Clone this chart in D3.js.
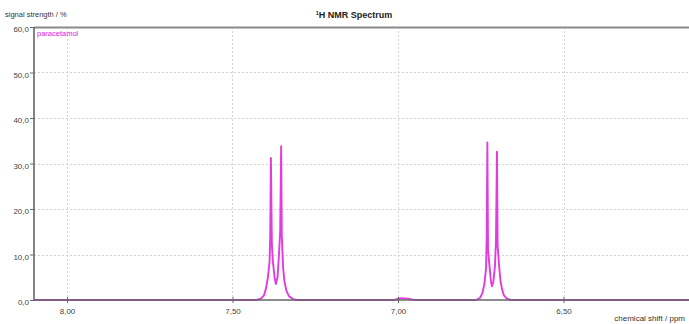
<!DOCTYPE html>
<html lang="en">
<head>
  <meta charset="UTF-8">
  <title>1H NMR Spectrum</title>
  <script src="https://cdnjs.cloudflare.com/ajax/libs/d3/7.8.5/d3.min.js"></script>
  <style>
    body { margin: 0; background: #fff; }
    svg { display: block; font-family: "Liberation Sans", Arial, sans-serif; }
  </style>
</head>
<body>
<svg id="chart" width="689" height="324"></svg>
<script>
// chemical shift (ppm) and signal strength (%)
const shifts = [
  8.100, 7.700, 7.429, 7.414, 7.405, 7.399, 7.393, 7.388, 7.386, 7.384, 7.381, 7.378,
  7.373, 7.369, 7.364, 7.360, 7.356, 7.353, 7.351, 7.347, 7.343, 7.337, 7.329, 7.317,
  7.305, 7.010, 7.000, 6.990, 6.970, 6.958, 6.950,
  6.764, 6.752, 6.745, 6.739, 6.734, 6.732, 6.730, 6.728, 6.723, 6.719, 6.716, 6.712,
  6.707, 6.704, 6.701, 6.699, 6.694, 6.690, 6.686, 6.680, 6.671, 6.659, 6.400, 6.000
];
const strength = [
  0.0, 0.0, 0.0, 0.3, 1.0, 2.5, 5.0, 8.5, 14.0, 31.2, 12.0, 8.5,
  5.0, 3.5, 5.0, 9.5, 15.0, 33.8, 14.0, 7.0, 4.0, 2.0, 0.8, 0.2,
  0.0, 0.0, 0.3, 0.4, 0.3, 0.1, 0.0,
  0.0, 0.5, 1.5, 3.5, 7.0, 14.0, 34.6, 11.0, 7.0, 4.0, 3.0, 4.0,
  7.5, 13.0, 32.6, 12.0, 7.0, 4.0, 2.5, 1.0, 0.3, 0.0, 0.0, 0.0
];
const xTicks = [8.0, 7.5, 7.0, 6.5];
const yTicks = [0, 10, 20, 30, 40, 50, 60];
const seriesName = "paracetamol";

const svg = d3.select("#chart");
const x = d3.scaleLinear().domain([8.1, 6.0]).range([33.9, 729]);
const y = d3.scaleLinear().domain([0, 60]).range([300, 27]);
const comma = d3.formatLocale({ decimal: ",", thousands: ".", grouping: [3], currency: ["", ""] });
const fx = comma.format(".2f"), fy = comma.format(".1f");

// grid
const grid = svg.append("g").attr("stroke", "#d2d2d2").attr("stroke-dasharray", "2,2").attr("stroke-width", 1);
grid.selectAll("line.v").data(xTicks).join("line")
  .attr("x1", d => Math.round(x(d)) + 0.5).attr("x2", d => Math.round(x(d)) + 0.5)
  .attr("y1", y(60)).attr("y2", y(0));
grid.selectAll("line.h").data(yTicks.slice(1, -1)).join("line")
  .attr("x1", 34).attr("x2", 689)
  .attr("y1", d => Math.round(y(d)) + 0.5).attr("y2", d => Math.round(y(d)) + 0.5);

// spectrum
const pts = shifts.map((s, i) => [s, strength[i]]);
svg.append("path")
  .datum(pts)
  .attr("fill", "none")
  .attr("stroke", "#e03ce0")
  .attr("stroke-width", 1.9)
  .attr("stroke-linejoin", "round")
  .attr("d", d3.line().x(d => x(d[0])).y(d => y(d[1])));

// top frame line
svg.append("line").attr("x1", 34).attr("x2", 689).attr("y1", 27.5).attr("y2", 27.5)
  .attr("stroke", "#8a8a8a").attr("stroke-width", 2);

// axes
const yAxis = svg.append("g").attr("transform", "translate(34,0)")
  .call(d3.axisLeft(y).tickValues(yTicks).tickSize(4).tickFormat(fy));
const xAxis = svg.append("g").attr("transform", "translate(0,300)")
  .call(d3.axisBottom(x).tickValues(xTicks).tickSize(4).tickFormat(fx));
[xAxis, yAxis].forEach(a => {
  a.select(".domain").attr("stroke", "#666").attr("stroke-width", 1.6);
  a.selectAll(".tick line").attr("stroke", "#666");
  a.selectAll(".tick text").attr("fill", "#444").attr("font-size", 8).attr("font-family", null);
});
xAxis.select(".domain").attr("d", "M34,0H689");
xAxis.selectAll(".tick line").attr("y1", -3).attr("y2", 3);
xAxis.selectAll(".tick text").attr("y", 8);
yAxis.selectAll(".tick text").attr("x", -5).attr("dy", "0.6em");
yAxis.select(".domain").attr("d", "M0,27V300");

// texts
svg.append("text").attr("x", 5).attr("y", 17).attr("font-size", 7.5).attr("fill", "#333")
  .text("signal strength / %");
const title = svg.append("text").attr("x", 354).attr("y", 18).attr("text-anchor", "middle")
  .attr("font-size", 9).attr("font-weight", "bold").attr("fill", "#222");
title.append("tspan").attr("font-size", 5.5).attr("dy", -3).text("1");
title.append("tspan").attr("dy", 3).text("H NMR Spectrum");
svg.append("text").attr("x", 685).attr("y", 321).attr("text-anchor", "end")
  .attr("font-size", 8).attr("fill", "#333")
  .text("chemical shift / ppm");
svg.append("text").attr("x", 37).attr("y", 36).attr("font-size", 7.5).attr("fill", "#e020e0")
  .text(seriesName);
</script>
</body>
</html>
